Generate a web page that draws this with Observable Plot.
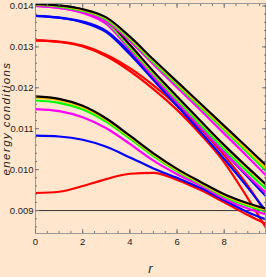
<!DOCTYPE html>
<html><head><meta charset="utf-8">
<script src="https://cdn.jsdelivr.net/npm/d3@7"></script>
<script src="https://cdn.jsdelivr.net/npm/@observablehq/plot@0.6"></script>
<style>
html,body{margin:0;padding:0;background:#FFE6CC;}
#chart svg{display:block;}
</style></head><body><div id="chart"></div>
<script>
// radial coordinate samples
const r = [0, 1, 2, 3, 4, 5, 6, 7, 8, 9, 9.75];

// upper bundle (family A)
const aBlack   = [0.01405,0.01401,0.01392,0.01372,0.01325,0.01269,0.01215,0.01161,0.01107,0.01053,0.01012];
const aYellow  = [0.01404,0.01400,0.01390,0.01370,0.01322,0.01266,0.01211,0.01157,0.01102,0.01047,0.01005];
const aGreen   = [0.01403,0.01398,0.01388,0.01367,0.01319,0.01262,0.01207,0.01152,0.01097,0.01041,0.00998];
const aMagenta = [0.01400,0.01395,0.01384,0.01362,0.01314,0.01257,0.01201,0.01145,0.01088,0.01031,0.00987];
// second bundle (family B)
const bBlack   = [0.01405,0.01401,0.01391,0.01366,0.01305,0.01240,0.01179,0.01119,0.01060,0.01005,0.00965];
const bYellow  = [0.01404,0.01400,0.01389,0.01364,0.01302,0.01237,0.01176,0.01116,0.01057,0.01002,0.00962];
const bGreen   = [0.01403,0.01398,0.01387,0.01361,0.01298,0.01233,0.01171,0.01110,0.01050,0.00994,0.00954];
const bMagenta = [0.01400,0.01395,0.01383,0.01356,0.01293,0.01227,0.01165,0.01103,0.01042,0.00985,0.00944];
const blueA    = [0.01376,0.01372,0.01362,0.01339,0.01287,0.01226,0.01165,0.01104,0.01043,0.00982,0.00936];
const blueB    = [0.01376,0.01371,0.01360,0.01336,0.01282,0.01219,0.01156,0.01092,0.01026,0.00956,0.00900];
const redA     = [0.01316,0.01313,0.01303,0.01281,0.01248,0.01206,0.01157,0.01100,0.01035,0.00961,0.00895];
const redB     = [0.01316,0.01312,0.01301,0.01277,0.01241,0.01197,0.01146,0.01086,0.01018,0.00930,0.00860];
// lower bundle (family C)
const cBlack   = [0.01179,0.01173,0.01156,0.01125,0.01083,0.01040,0.01002,0.00970,0.00940,0.00918,0.00905];
const cYellow  = [0.01176,0.01170,0.01153,0.01122,0.01080,0.01037,0.00999,0.00967,0.00937,0.00915,0.00902];
const cGreen   = [0.01169,0.01163,0.01147,0.01117,0.01076,0.01033,0.00996,0.00965,0.00934,0.00911,0.00898];
const cMagenta = [0.01148,0.01143,0.01128,0.01101,0.01063,0.01022,0.00989,0.00961,0.00929,0.00905,0.00891];
const cBlue    = [0.01083,0.01081,0.01073,0.01056,0.01030,0.01003,0.00980,0.00955,0.00925,0.00896,0.00879];
const cRed     = [0.00943,0.00946,0.00960,0.00977,0.00990,0.00992,0.00975,0.00950,0.00920,0.00889,0.00868];

const baseline = [0.009];
const yTicks = [0.009, 0.010, 0.011, 0.012, 0.013, 0.014];
const xTicks = [0, 2, 4, 6, 8];

const series = [
  {v: redB, c: "#ff0000"}, {v: redA, c: "#ff0000"}, {v: blueB, c: "#0000ff"}, {v: blueA, c: "#0000ff"},
  {v: bMagenta, c: "#ff00ff"}, {v: bGreen, c: "#00ff00"}, {v: bYellow, c: "#ffc000"}, {v: bBlack, c: "#000000"},
  {v: aMagenta, c: "#ff00ff"}, {v: aGreen, c: "#00ff00"}, {v: aYellow, c: "#ffc000"}, {v: aBlack, c: "#000000"},
  {v: cRed, c: "#ff0000"}, {v: cBlue, c: "#0000ff"}, {v: cMagenta, c: "#ff00ff"}, {v: cGreen, c: "#00ff00"},
  {v: cYellow, c: "#ffc000"}, {v: cBlack, c: "#000000"}
];
const rows = series.flatMap((s, i) => r.map((rv, j) => ({r: rv, v: s.v[j], id: i, color: s.c})));

const xMinor = d3.range(0, 9.76, 0.5);
const yMinor = d3.range(0.0086, 0.01407, 0.0002);
const tickColor = "#777";
const blank = () => "";

const chart = Plot.plot({
  width: 266, height: 277,
  marginLeft: 35, marginRight: 1, marginTop: 3, marginBottom: 44,
  style: {background: "#FFE6CC", fontFamily: "'Liberation Sans Narrow','Liberation Sans',Arial,sans-serif", fontSize: "9.5px", color: "#222"},
  x: {domain: [0, 9.75]},
  y: {domain: [0.00844, 0.01406]},
  color: {type: "identity"},
  marks: [
    Plot.ruleY(baseline, {stroke: "#333", strokeWidth: 1}),
    Plot.line(rows, {x: "r", y: "v", z: "id", stroke: "color", strokeWidth: 2.2, curve: "monotone-x", clip: true}),
    Plot.frame({stroke: "#999"}),
    Plot.axisY({ticks: yTicks, tickSize: 0, tickPadding: 2, tickFormat: d3.format(".3f"), label: null}),
    Plot.axisY({ticks: yTicks, anchor: "left", tickSize: 4, dx: 4, tickFormat: blank, label: null, stroke: tickColor}),
    Plot.axisY({ticks: yMinor, anchor: "left", tickSize: 2, dx: 2, tickFormat: blank, label: null, stroke: tickColor}),
    Plot.axisY({ticks: yTicks, anchor: "right", tickSize: 4, dx: -4, tickFormat: blank, label: null, stroke: tickColor}),
    Plot.axisY({ticks: yMinor, anchor: "right", tickSize: 2, dx: -2, tickFormat: blank, label: null, stroke: tickColor}),
    Plot.axisX({ticks: xTicks, anchor: "bottom", tickSize: 0, tickPadding: 5, label: null}),
    Plot.axisX({ticks: xTicks, anchor: "bottom", tickSize: 4, dy: -4, tickFormat: blank, label: null, stroke: tickColor}),
    Plot.axisX({ticks: xMinor, anchor: "bottom", tickSize: 2, dy: -2, tickFormat: blank, label: null, stroke: tickColor}),
    Plot.axisX({ticks: xTicks, anchor: "top", tickSize: 4, dy: 4, tickFormat: blank, label: null, stroke: tickColor}),
    Plot.axisX({ticks: xMinor, anchor: "top", tickSize: 2, dy: 2, tickFormat: blank, label: null, stroke: tickColor}),
    Plot.text(["energy conditions"], {frameAnchor: "left", dx: -29, dy: 0, rotate: -90, textAnchor: "middle", lineAnchor: "middle", fontStyle: "italic", fontSize: 11.5, fontFamily: "'Liberation Sans',Arial,sans-serif", fill: "#222"}),
    Plot.text(["r"], {frameAnchor: "bottom", dy: 35, textAnchor: "middle", lineAnchor: "middle", fontStyle: "italic", fontSize: 13, fontFamily: "'Liberation Sans',Arial,sans-serif", fill: "#222"})
  ]
});
// Mathematica-style tracking on the axis label
chart.querySelectorAll("text").forEach(t => {
  if (t.textContent === "energy conditions") t.setAttribute("letter-spacing", "1.4");
});
document.getElementById("chart").append(chart);
</script></body></html>
